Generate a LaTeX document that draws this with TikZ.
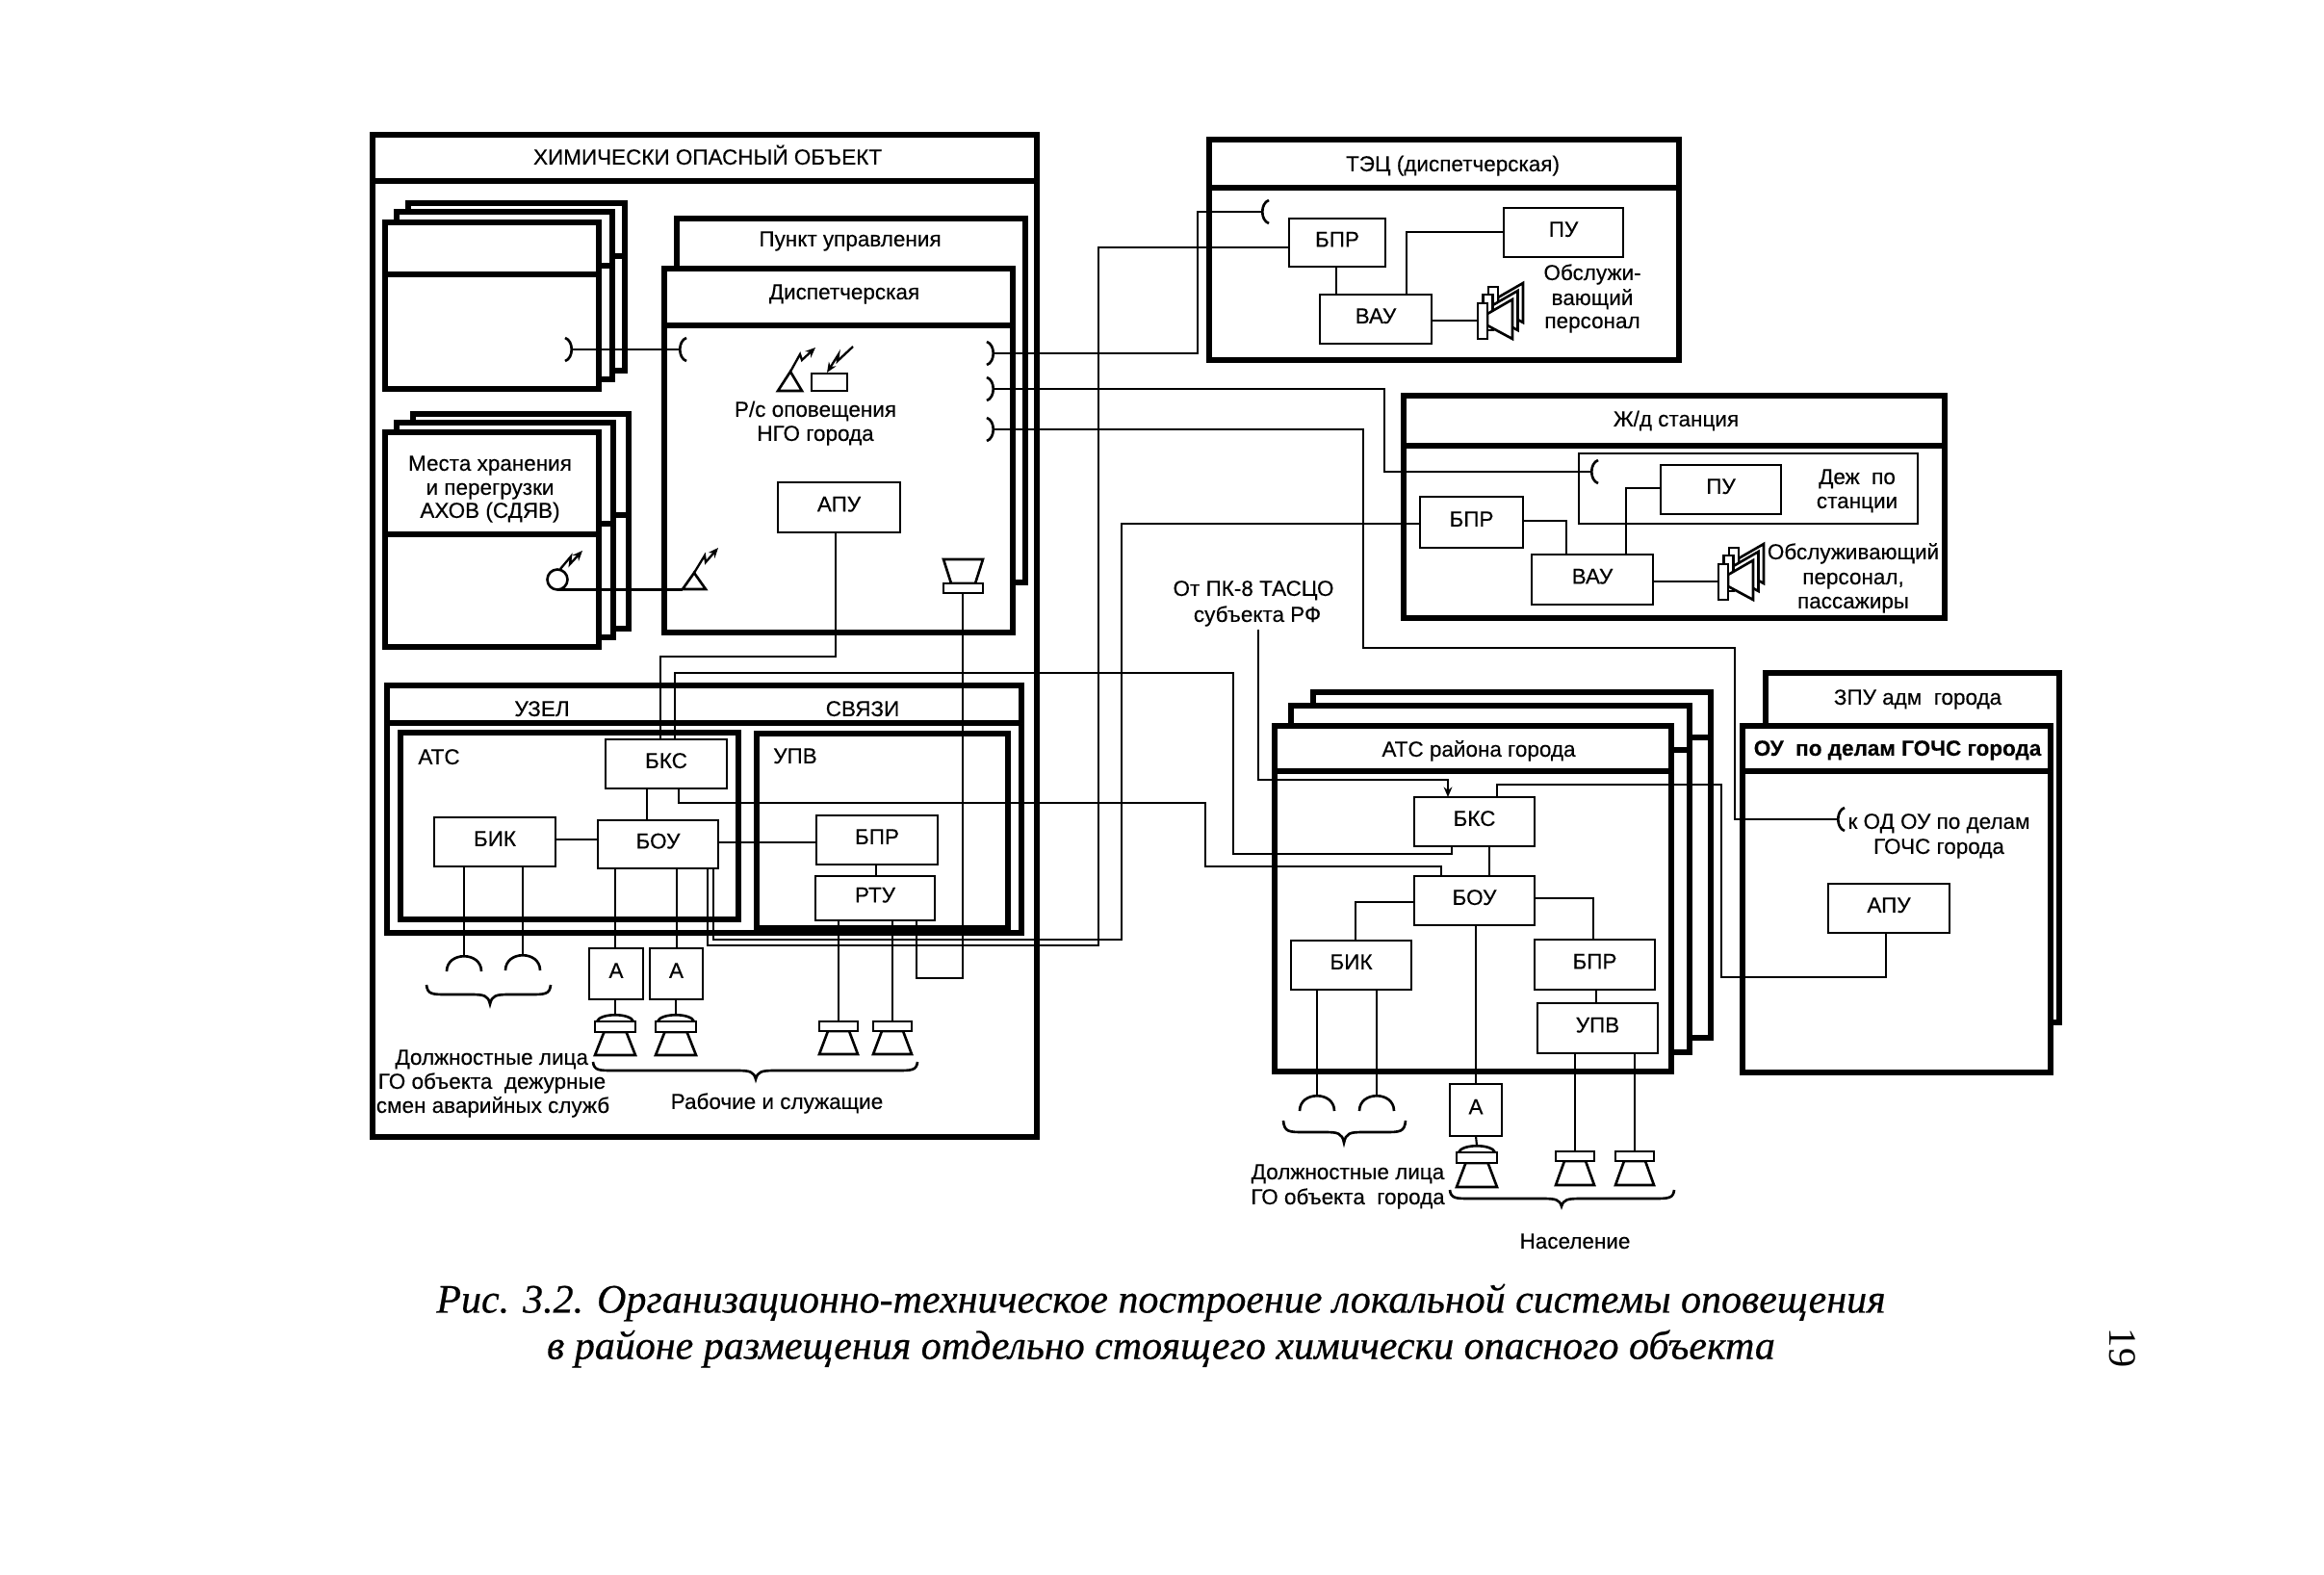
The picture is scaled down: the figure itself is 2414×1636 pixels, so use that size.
\documentclass[tikz,border=0pt]{standalone}
\usepackage{fontspec}
\setmainfont[FakeBold=0.25]{Liberation Sans}
\newfontface\capit[FakeBold=0.5]{Liberation Serif Italic}
\newfontfamily\capfont{Liberation Serif}
\usetikzlibrary{arrows.meta,calc}
\tikzset{
  hv/.style={line width=2.9pt,fill=white,draw=black},
  th/.style={line width=1.5pt,draw=black},
  wire/.style={line width=1.2pt,draw=black,line join=miter},
  lab/.style={inner sep=0pt,outer sep=0pt,text=black,text height=9pt,text depth=0pt,font=\fontsize{12.8pt}{14pt}\selectfont},
  boxn/.style={line width=1.5pt,draw=black,fill=white,inner sep=0pt,outer sep=0pt,text height=9pt,text depth=4pt,font=\fontsize{12.8pt}{14pt}\selectfont},
  framen/.style={hv,inner sep=0pt,outer sep=0pt},
  zig/.style={line width=1.3pt,-{Stealth[length=6pt,width=5pt]}},
}
\newcommand\mkbox[5]{%
  \pgfmathsetmacro{\cxx}{(#2+#4)/2}\pgfmathsetmacro{\cyy}{(#3+#5)/2}%
  \pgfmathsetmacro{\www}{(#4-#2)*0.02}\pgfmathsetmacro{\hhh}{(#5-#3)*0.02}%
}
\newcommand\bx[6]{\mkbox{#1}{#2}{#3}{#4}{#5}\node[boxn,minimum width=\www cm,minimum height=\hhh cm] (#1) at (\cxx,\cyy) {#6};}
\newcommand\fr[5]{\mkbox{#1}{#2}{#3}{#4}{#5}\node[framen,minimum width=\www cm,minimum height=\hhh cm] (#1) at (\cxx,\cyy) {};}
\newcommand\hd[2]{\draw[hv] (#1.west |- 0,#2) -- (#1.east |- 0,#2);}
\newcommand\sockR[3]{\coordinate (#1) at (#2,#3); \draw[th] ($(#2,#3)+(-8,-12)$) .. controls ($(#2,#3)+(1,-9)$) and ($(#2,#3)+(1,9)$) .. ($(#2,#3)+(-8,12)$);}
\newcommand\sockL[3]{\coordinate (#1) at (#2,#3); \draw[th] ($(#2,#3)+(8,-12)$) .. controls ($(#2,#3)+(-1,-9)$) and ($(#2,#3)+(-1,9)$) .. ($(#2,#3)+(8,12)$);}
\newcommand\arch[4]{\coordinate (#1) at (#2,#3); \draw[th] ($(#2,#3)+(-#4,16)$) .. controls ($(#2,#3)+(-#4,-5)$) and ($(#2,#3)+(#4,-5)$) .. ($(#2,#3)+(#4,16)$);}
\newcommand\spk[5]{%
  \coordinate (#1) at (#2,#3);
  \draw[th,fill=white] ($(#2,#3)+(-0.55*#4,10)$) -- ($(#2,#3)+(-#4,10+#5)$) -- ($(#2,#3)+(#4,10+#5)$) -- ($(#2,#3)+(0.55*#4,10)$) -- cycle;
  \draw[th,fill=white] ($(#2,#3)+(-#4,0)$) rectangle ($(#2,#3)+(#4,10)$);}
\newcommand\domespk[5]{%
  \coordinate (#1) at (#2,#3);
  \draw[th,fill=white] ($(#2,#3)+(-0.9*#4,7)$) .. controls ($(#2,#3)+(-0.75*#4,-2)$) and ($(#2,#3)+(0.75*#4,-2)$) .. ($(#2,#3)+(0.9*#4,7)$);
  \draw[th,fill=white] ($(#2,#3)+(-0.55*#4,18)$) -- ($(#2,#3)+(-#4,18+#5)$) -- ($(#2,#3)+(#4,18+#5)$) -- ($(#2,#3)+(0.55*#4,18)$) -- cycle;
  \draw[th,fill=white] ($(#2,#3)+(-#4,7)$) rectangle ($(#2,#3)+(#4,18)$);}
\newcommand\onespk[2]{\begin{scope}[shift={(#1,#2)}]
  \draw[th,fill=white] (10,-7) -- (36,-22) -- (36,19) -- (10,5) -- cycle;
  \draw[th,fill=white] (0,-18) rectangle (10,19);
\end{scope}}
\newcommand\sidespk[3]{\coordinate (#1) at (#2,#3);
  \onespk{#2+11}{#3-17}\onespk{#2+5.5}{#3-9}\onespk{#2}{#3}}
\newcommand\brc[6]{\draw[th] (#1,#4) .. controls ($(#1,#5)+(1,0)$) and ($(#1,#5)+(6,0)$) .. ($(#1,#5)+(22,0)$) -- ($(#3,#5)+(-20,0)$) .. controls ($(#3,#5)+(-6,0)$) and ($(#3,#5)+(-2,1)$) .. (#3,#6) .. controls ($(#3,#5)+(2,1)$) and ($(#3,#5)+(6,0)$) .. ($(#3,#5)+(20,0)$) -- ($(#2,#5)+(-22,0)$) .. controls ($(#2,#5)+(-6,0)$) and ($(#2,#5)+(-1,0)$) .. (#2,#4);}
\begin{document}
\begin{tikzpicture}[x=0.02cm,y=-0.02cm]
\useasboundingbox (0,0) rectangle (2414,1636);
\fill[white] (0,0) rectangle (2414,1636);
% main object
\fr{main}{387}{140}{1077}{1181}
\hd{main}{188}
\node[lab] (tmain) at (735,163) {ХИМИЧЕСКИ ОПАСНЫЙ ОБЪЕКТ};
% stack 1
\fr{sa}{424}{211}{649}{385}\hd{sa}{266}
\fr{sb}{412}{220}{636}{394}\hd{sb}{276}
\fr{sc}{400}{231}{622}{404}\hd{sc}{285}
% stack 2
\fr{ta}{429}{430}{653}{653}\hd{ta}{535}
\fr{tb}{412}{439}{637}{662}\hd{tb}{544}
\fr{tc}{400}{449}{622}{672}\hd{tc}{555}
\node[lab] (ts1) at (509,481) {Места хранения};
\node[lab] (ts2) at (509,506) {и перегрузки};
\node[lab] (ts3) at (509,530) {АХОВ (СДЯВ)};
% control point
\fr{pu}{703}{227}{1065}{605}
\node[lab] (tpu) at (883,248) {Пункт управления};
\fr{disp}{690}{279}{1052}{657}\hd{disp}{338}
\node[lab] (tdisp) at (877,303) {Диспетчерская};
\node[lab] (trs1) at (847,425) {Р/с оповещения};
\node[lab] (trs2) at (847,450) {НГО города};
\bx{apua}{808}{501}{935}{553}{АПУ}
\draw[th] (808,406) -- (821,386) -- (833,406) -- cycle;
\draw[zig] (821,386) -- (831,368) -- (833,374) -- (847,361);
\draw[th] (843,388) rectangle (880,406);
\draw[zig] (886,360) -- (870,375) -- (871,368) -- (859,387);
\coordinate (anb) at (709,612);
\draw[th] (709,612) -- (721,595) -- (733,612) -- cycle;
\draw[zig] (721,595) -- (732,577) -- (733,584) -- (746,569);
\node[th,circle,fill=white,minimum size=0.42cm,inner sep=0pt,outer sep=0pt] (circ) at (579,602) {};
\draw[zig] (582,591) -- (593,578) -- (592,586) -- (605,572);
\draw[th,fill=white] (980,581) -- (1021,581) -- (1013,606) -- (988,606) -- cycle;
\node[boxn,minimum width=0.82cm,minimum height=0.2cm,text height=0pt,text depth=0pt] (spkd) at (1000.5,611) {};
% communication node
\fr{node}{402}{712}{1061}{969}\hd{node}{751}
\node[lab] (tuz) at (563,736) {УЗЕЛ};
\node[lab] (tsv) at (896,736) {СВЯЗИ};
\fr{atsa}{416}{761}{767}{955}
\fr{upva}{786}{762}{1047}{964}
\node[lab] (tatsa) at (456,786) {АТС};
\node[lab] (tupva) at (826,785) {УПВ};
\bx{bksa}{629}{768}{755}{819}{БКС}
\bx{boua}{621}{852}{746}{902}{БОУ}
\bx{bika}{451}{849}{577}{900}{БИК}
\bx{bpra}{848}{847}{974}{898}{БПР}
\bx{rtua}{847}{910}{971}{956}{РТУ}
\bx{aa}{612}{985}{668}{1038}{А}
\bx{ab}{675}{985}{730}{1038}{А}
\arch{ha}{482}{993}{18}
\arch{hb}{543}{992}{18}
\domespk{da}{639}{1054}{21}{24}
\domespk{db}{702}{1054}{21}{24}
\spk{sa1}{871}{1061}{20}{24}
\spk{sa2}{927}{1061}{20}{24}
\brc{443}{572}{509}{1023}{1033}{1043}
\brc{616}{953}{785}{1103}{1112}{1121}
\node[lab,anchor=east] (t1) at (611,1098) {Должностные лица};
\node[lab] (t2) at (511,1123) {ГО объекта\ \ дежурные};
\node[lab] (t3) at (512,1148) {смен аварийных служб};
\node[lab] (t4) at (807,1144) {Рабочие и служащие};
% TEC
\fr{tec}{1256}{145}{1744}{374}\hd{tec}{195}
\node[lab] (ttec) at (1509,170) {ТЭЦ (диспетчерская)};
\sockL{st}{1310}{220}
\bx{bprt}{1339}{227}{1439}{277}{БПР}
\bx{put}{1562}{216}{1686}{267}{ПУ}
\bx{vaut}{1371}{306}{1487}{357}{ВАУ}
\sidespk{spt}{1535}{333}
\node[lab] (to1) at (1654,283) {Обслужи-};
\node[lab] (to2) at (1654,309) {вающий};
\node[lab] (to3) at (1654,333) {персонал};
% Railway
\fr{rw}{1458}{411}{2020}{642}\hd{rw}{463}
\node[lab] (trw) at (1741,435) {Ж/д станция};
\bx{duty}{1640}{471}{1992}{544}{}
\sockL{srw}{1652}{490}
\bx{pur}{1725}{483}{1850}{534}{ПУ}
\node[lab] (td1) at (1929,495) {Деж\ \ по};
\node[lab] (td2) at (1929,520) {станции};
\bx{bprr}{1475}{516}{1582}{569}{БПР}
\bx{vaur}{1591}{576}{1717}{628}{ВАУ}
\sidespk{spr}{1785}{604}
\node[lab] (tr1) at (1925,573) {Обслуживающий};
\node[lab] (tr2) at (1925,599) {персонал,};
\node[lab] (tr3) at (1925,624) {пассажиры};
\node[lab] (tpk1) at (1302,611) {От ПК-8 ТАСЦО};
\node[lab] (tpk2) at (1306,638) {субъекта РФ};
% District exchange
\fr{cc}{1364}{719}{1777}{1078}\hd{cc}{766}
\fr{cb}{1341}{733}{1755}{1093}\hd{cb}{779}
\fr{ca}{1324}{754}{1736}{1113}\hd{ca}{801}
\node[lab] (tca) at (1536,778) {АТС района города};
\bx{bksc}{1469}{828}{1594}{879}{БКС}
\bx{bouc}{1469}{910}{1594}{961}{БОУ}
\bx{bikc}{1341}{977}{1466}{1028}{БИК}
\bx{bprc}{1594}{976}{1719}{1028}{БПР}
\bx{upvc}{1597}{1042}{1722}{1094}{УПВ}
\bx{ac}{1506}{1126}{1560}{1180}{А}
\arch{hc}{1368}{1138}{18}
\arch{hd}{1430}{1138}{18}
\domespk{dc}{1534}{1190}{21}{25}
\spk{sc1}{1636}{1196}{20}{25}
\spk{sc2}{1698}{1196}{20}{25}
\brc{1333}{1460}{1396}{1164}{1176}{1187}
\brc{1506}{1739}{1622}{1236}{1245}{1253}
\node[lab] (tc1) at (1400,1217) {Должностные лица};
\node[lab] (tc2) at (1400,1243) {ГО объекта\ \ города};
\node[lab] (tc3) at (1636,1289) {Население};
% City management
\fr{zpu}{1834}{699}{2139}{1062}
\fr{ou}{1810}{754}{2130}{1114}\hd{ou}{801}
\node[lab] (tzpu) at (1992,724) {ЗПУ адм\ \ города};
\node[lab,font=\fontsize{12.8pt}{14pt}\selectfont\bfseries] (tou) at (1971,777) {ОУ\ \ по делам ГОЧС города};
\sockL{sou}{1908}{851}
\node[lab] (tk1) at (2014,853) {к ОД ОУ по делам};
\node[lab] (tk2) at (2014,879) {ГОЧС города};
\bx{apuc}{1899}{918}{2025}{969}{АПУ}
% sockets in the main object
\sockR{sl}{595}{363}
\sockL{sd}{705}{363}
\sockR{so1}{1033}{367}
\sockR{so2}{1033}{404}
\sockR{so3}{1033}{446}
% connectors
\draw[wire] (sl) -- (sd);
\draw[wire] (circ.south) -- (circ.south -| anb);
\draw[wire] (so1) -- (1244,367) -- (1244,220) -- (st);
\draw[wire] (so2) -- (1438,404) -- (1438,490) -- (srw);
\draw[wire] (so3) -- (1416,446) -- (1416,673) -- (1802,673) -- (1802,851) -- (sou);
\draw[wire] (868,0 |- apua.south) -- (868,682) -- (686,682) -- (686,0 |- bksa.north);
\draw[wire] (701,0 |- bksa.north) -- (701,699) -- (1281,699) -- (1281,887) -- (1508,887) -- (1508,0 |- bksc.south);
\draw[wire] (705,0 |- bksa.south) -- (705,834) -- (1252,834) -- (1252,900) -- (1497,900) -- (1497,0 |- bouc.north);
\draw[wire] (672,0 |- bksa.south) -- (672,0 |- boua.north);
\draw[wire] (bika.east |- 0,872) -- (boua.west |- 0,872);
\draw[wire] (boua.east |- 0,875) -- (bpra.west |- 0,875);
\draw[wire] (910,0 |- bpra.south) -- (910,0 |- rtua.north);
\draw[wire] (952,0 |- rtua.south) -- (952,1016) -- (1000,1016) -- (1000,0 |- spkd.south);
\draw[wire] (871,0 |- rtua.south) -- (sa1);
\draw[wire] (927,0 |- rtua.south) -- (sa2);
\draw[wire] (482,0 |- bika.south) -- (ha);
\draw[wire] (543,0 |- bika.south) -- (hb);
\draw[wire] (639,0 |- boua.south) -- (639,0 |- aa.north);
\draw[wire] (703,0 |- boua.south) -- (703,0 |- ab.north);
\draw[wire] (639,0 |- aa.south) -- (da);
\draw[wire] (702,0 |- ab.south) -- (db);
\draw[wire] (735,0 |- boua.south) -- (735,982) -- (1141,982) -- (1141,257) -- (bprt.west |- 0,257);
\draw[wire] (741,0 |- boua.south) -- (741,976) -- (1165,976) -- (1165,544) -- (bprr.west |- 0,544);
\draw[wire] (1388,0 |- bprt.south) -- (1388,0 |- vaut.north);
\draw[wire] (1461,0 |- vaut.north) -- (1461,241) -- (put.west |- 0,241);
\draw[wire] (vaut.east |- spt) -- (spt);
\draw[wire] (bprr.east |- 0,541) -- (1627,541) -- (1627,0 |- vaur.north);
\draw[wire] (1689,0 |- vaur.north) -- (1689,507) -- (pur.west |- 0,507);
\draw[wire] (vaur.east |- spr) -- (spr);
\draw[wire,-{Stealth[length=6pt,width=5pt]}] (1307,0 |- tpk2.south) ++(0,8) -- (1307,810) -- (1504,810) -- (1504,0 |- bksc.north);
\draw[wire] (1555,0 |- bksc.north) -- (1555,815) -- (1788,815) -- (1788,1015) -- (1959,1015) -- (1959,0 |- apuc.south);
\draw[wire] (1547,0 |- bksc.south) -- (1547,0 |- bouc.north);
\draw[wire] (bouc.west |- 0,937) -- (1408,937) -- (1408,0 |- bikc.north);
\draw[wire] (bouc.east |- 0,933) -- (1655,933) -- (1655,0 |- bprc.north);
\draw[wire] (1658,0 |- bprc.south) -- (1658,0 |- upvc.north);
\draw[wire] (1368,0 |- bikc.south) -- (hc);
\draw[wire] (1430,0 |- bikc.south) -- (hd);
\draw[wire] (1533,0 |- bouc.south) -- (1533,0 |- ac.north);
\draw[wire] (1533,0 |- ac.south) -- (dc);
\draw[wire] (1636,0 |- upvc.south) -- (sc1);
\draw[wire] (1698,0 |- upvc.south) -- (sc2);
% caption
\node[inner sep=0pt,text=black,font=\capit\fontsize{23.9pt}{30pt}\selectfont] (cap1) at (1206,1353) {Рис. 3.2. Организационно-техническое построение локальной системы оповещения};
\node[inner sep=0pt,text=black,font=\capit\fontsize{23.9pt}{30pt}\selectfont] (cap2) at (1206,1401) {в районе размещения отдельно стоящего химически опасного объекта};
\node[inner sep=0pt,text=black,rotate=-90,font=\capfont\fontsize{23pt}{26pt}\selectfont] (pg) at (2205,1400) {19};
\end{tikzpicture}
\end{document}
